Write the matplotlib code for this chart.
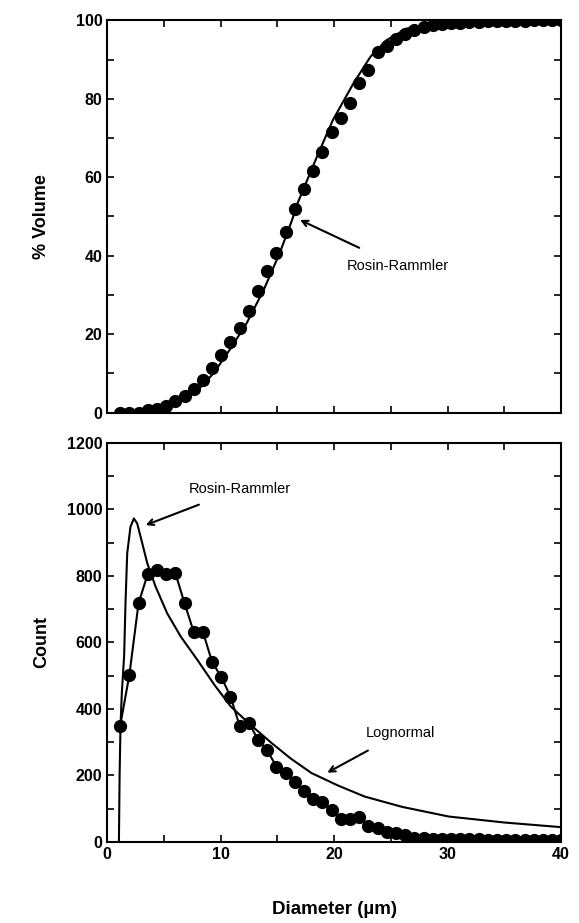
import matplotlib
matplotlib.use("Agg")
import matplotlib.pyplot as plt
from matplotlib.ticker import MultipleLocator

plt.rcParams['font.family'] = ['Liberation Sans', 'DejaVu Sans']

# diameter bins (um), shared by both panels
diam = [1.15, 1.96, 2.77, 3.58, 4.39, 5.2, 6.01, 6.82, 7.63, 8.44, 9.25, 10.06,
        10.87, 11.68, 12.49, 13.3, 14.11, 14.92, 15.73, 16.54, 17.35, 18.16,
        18.97, 19.78, 20.59, 21.4, 22.21, 23.02, 23.83, 24.64, 25.45, 26.26,
        27.07, 27.88, 28.69, 29.5, 30.31, 31.12, 31.93, 32.74, 33.55, 34.36,
        35.17, 35.98, 36.79, 37.6, 38.41, 39.22, 40.0]

# cumulative % volume (top)
volume = [0.0, 0.0, 0.0, 0.6, 1.0, 1.8, 2.9, 4.1, 6.0, 8.4, 11.4, 14.8, 17.9,
          21.5, 26.0, 30.9, 36.0, 40.8, 46.0, 51.8, 56.9, 61.6, 66.5, 71.6,
          75.2, 79.0, 84.1, 87.3, 91.8, 93.5, 95.3, 96.6, 97.5, 98.3, 98.7,
          99.0, 99.2, 99.4, 99.5, 99.6, 99.7, 99.8, 99.8, 99.9, 99.9, 100.0,
          100.0, 100.0, 100.0]

# counts (bottom)
count = [349, 502, 718, 806, 818, 805, 809, 718, 632, 632, 541, 496, 437, 349,
         358, 307, 275, 226, 207, 181, 154, 128, 121, 96, 69, 69, 76, 48, 42,
         30, 27, 21, 12, 10, 9, 9, 8, 8, 7, 7, 6, 6, 6, 5, 5, 5, 5, 5, 5]

# Rosin-Rammler fit, cumulative volume (top)
rr_x = [1.0, 2.0, 3.2, 5.0, 6.4, 7.9, 9.4, 10.8, 12.3, 13.8, 15.2, 16.3, 16.8,
        18.5, 19.9, 21.7, 23.2, 24.6, 26.4, 28.7, 31.6, 35.0, 40.0]
rr_y = [0.0, 0.05, 0.3, 1.2, 2.9, 5.4, 10.1, 16.0, 22.8, 31.3, 40.6, 49.1, 53.5,
        65.3, 74.6, 83.9, 90.7, 94.9, 97.9, 99.1, 99.6, 99.9, 100.0]

# fitted count curve (bottom)
fit_x = [1.04, 1.1, 1.18, 1.3, 1.5, 1.62, 1.77, 2.06, 2.36, 2.65, 3.1, 3.54,
         4.27, 5.3, 6.5, 7.96, 9.5, 10.9, 12.7, 14.5, 16.2, 18.0, 20.3, 22.7,
         26.0, 30.1, 35.0, 40.0]
fit_y = [0, 200, 349, 450, 560, 718, 868, 948, 973, 958, 898, 838, 768, 687,
         617, 547, 470, 407, 350, 297, 250, 207, 170, 136, 105, 76, 58, 44]

fig = plt.figure(figsize=(5.79, 9.23), dpi=100)
ax1 = fig.add_axes([0.185, 0.553, 0.784, 0.425])
ax2 = fig.add_axes([0.185, 0.088, 0.784, 0.432])

ax1.plot(rr_x, rr_y, color='black', lw=1.5)
ax1.plot(diam, volume, 'o', color='black', ms=8.5)
ax1.set_xlim(0, 40)
ax1.set_ylim(0, 100)
ax1.yaxis.set_major_locator(MultipleLocator(20))
ax1.yaxis.set_minor_locator(MultipleLocator(10))
ax1.xaxis.set_major_locator(MultipleLocator(10))
ax1.xaxis.set_minor_locator(MultipleLocator(5))
ax1.set_xticklabels([])
ax1.set_ylabel('% Volume', fontsize=13, fontweight='bold')
ax1.yaxis.set_label_coords(-0.125, 0.5)
ax1.annotate('Rosin-Rammler', xy=(17.0, 49.1), xytext=(21.1, 37.4),
             fontsize=10.5, va='center', ha='left',
             arrowprops=dict(arrowstyle='->', lw=1.5, color='black',
                             shrinkA=14, shrinkB=0))

ax2.plot(fit_x, fit_y, color='black', lw=1.5)
ax2.plot(diam, count, '-o', color='black', ms=8.5, lw=1.5)
ax2.set_xlim(0, 40)
ax2.set_ylim(0, 1200)
ax2.yaxis.set_major_locator(MultipleLocator(200))
ax2.yaxis.set_minor_locator(MultipleLocator(100))
ax2.xaxis.set_major_locator(MultipleLocator(10))
ax2.xaxis.set_minor_locator(MultipleLocator(5))
ax2.set_ylabel('Count', fontsize=13, fontweight='bold')
ax2.yaxis.set_label_coords(-0.125, 0.5)
ax2.set_xlabel('Diameter (\u00b5m)', fontsize=13.5, fontweight='bold', labelpad=28)
ax2.annotate('Rosin-Rammler', xy=(3.4, 953), xytext=(7.2, 1062),
             fontsize=10.5, va='center', ha='left',
             arrowprops=dict(arrowstyle='->', lw=1.5, color='black',
                             shrinkA=12, shrinkB=0))
ax2.annotate('Lognormal', xy=(19.4, 208), xytext=(22.8, 328),
             fontsize=10.5, va='center', ha='left',
             arrowprops=dict(arrowstyle='->', lw=1.5, color='black',
                             shrinkA=12, shrinkB=0))

for ax in (ax1, ax2):
    for s in ax.spines.values():
        s.set_linewidth(1.5)
    ax.tick_params(which='both', direction='in', top=True, right=True,
                   length=5, width=1.2, labelsize=11.5)
    for lab in ax.get_yticklabels() + ax.get_xticklabels():
        lab.set_fontweight('bold')

fig.savefig('out.png', dpi=100)
